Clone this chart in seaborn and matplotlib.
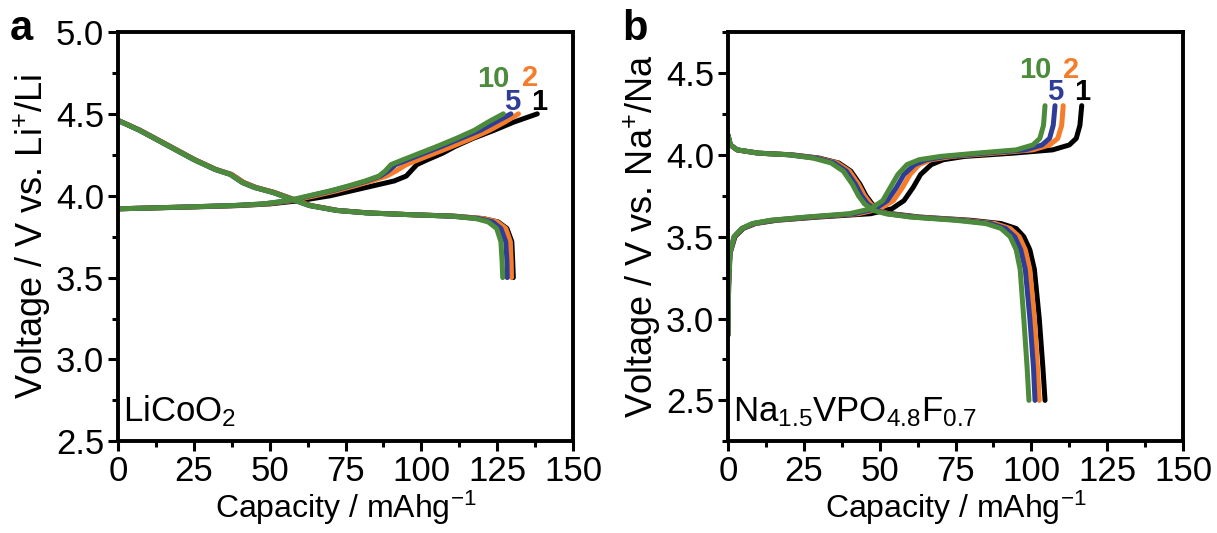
import numpy as np
import pandas as pd
import seaborn as sns
import matplotlib
matplotlib.use("Agg")
import matplotlib.pyplot as plt
from matplotlib.ticker import MultipleLocator

# cycle numbers and colours
cycles = [1, 2, 5, 10]
colors = {1: "#000000", 2: "#f47c2a", 5: "#2f3d98", 10: "#4b8b3b"}

# ---- panel a: LiCoO2 ----
a_chg_v = [3.92, 3.93, 3.94, 3.95, 3.97, 4.00, 4.03, 4.06, 4.09, 4.12,
           4.15, 4.19, 4.22, 4.26, 4.30, 4.35, 4.40, 4.45, 4.50]
a_chg_1 = [0, 22, 40, 50, 60, 70, 77, 84, 91, 95,
           96.5, 98.5, 102, 107, 111, 117, 124, 130.5, 138.2]
a_chg_2 = [0, 20, 39, 49, 57.5, 65, 72, 78, 83.5, 88.5,
           91.5, 95, 99, 104.5, 110, 116.5, 122.5, 127.5, 132.0]
a_chg_5 = [0, 20, 38, 48, 56.5, 63.5, 70.5, 76.5, 82, 86.5,
           89, 91.5, 95.5, 101, 106.5, 113, 119.5, 124.5, 129.5]
a_chg_10 = [0, 20, 38, 48, 56, 63, 70, 76, 81.5, 86,
            88, 90, 94, 99.5, 105, 111.5, 117.5, 122, 127.0]

a_dis_v = [4.46, 4.40, 4.30, 4.22, 4.16, 4.13, 4.08, 4.05, 4.02, 3.98, 3.94,
           3.91, 3.895, 3.885, 3.875, 3.86, 3.84, 3.80, 3.72, 3.60, 3.50]
a_dis_1 = [0, 7.2, 17.3, 25.3, 32.3, 37.4, 41.5, 45.5, 51.5, 57.5, 63.5,
           72.5, 82.5, 95.5, 111, 120.5, 125.3, 128.2, 129.8, 130.1, 130.3]
a_dis_2 = [0, 7.2, 17.3, 25.3, 32.3, 37.4, 41.5, 45.5, 51.5, 57.5, 63.5,
           72.5, 82.5, 95.5, 111, 120.5, 125, 127.8, 129.3, 129.6, 129.7]
a_dis_5 = [0, 7, 17, 25, 32, 37, 41, 45, 51, 57, 63,
           72, 82, 95, 110, 119, 123.5, 126.2, 127.8, 128.2, 128.3]
a_dis_10 = [0, 7, 17, 25, 32, 37, 41, 45, 51, 57, 63,
            72, 82, 95, 110, 118, 122, 124.8, 126.2, 126.6, 126.8]

# ---- panel b: Na1.5VPO4.8F0.7 ----
b_chg_v = [2.9, 3.2, 3.40, 3.50, 3.55, 3.58, 3.60, 3.62, 3.64, 3.67, 3.72,
           3.80, 3.88, 3.94, 3.97, 3.99, 4.01, 4.03, 4.06, 4.10, 4.18, 4.30]
b_chg_1 = [0, 0.2, 0.7, 2.3, 5, 9, 16, 30, 47, 54, 58,
           61, 63.5, 67, 71, 78, 94, 107, 112.5, 114.8, 116, 116.6]
b_chg_2 = [0, 0.2, 0.6, 2.1, 4.7, 8.5, 15, 28, 43, 50, 54.5,
           57.5, 60, 63, 67, 74, 88, 100.5, 106, 108.7, 110, 110.5]
b_chg_5 = [0, 0.2, 0.6, 2, 4.6, 8.2, 14.5, 27, 41.5, 48.5, 52.5,
           55.5, 58, 61.5, 65.5, 72, 85, 98, 103.5, 106, 107.2, 107.8]
b_chg_10 = [0, 0.2, 0.6, 2, 4.5, 8, 14, 26, 40, 47, 51,
            53.5, 56, 59, 63, 70, 82, 95, 100.5, 102.8, 104, 104.5]

b_dis_v = [4.12, 4.06, 4.03, 4.01, 4.00, 3.98, 3.95, 3.90, 3.82, 3.75, 3.70, 3.66,
           3.64, 3.62, 3.60, 3.58, 3.55, 3.50, 3.42, 3.30, 3.00, 2.70, 2.50]
b_dis_1 = [0, 0.8, 3, 10, 21, 30, 36.5, 40.5, 43.5, 45.5, 47.5, 50,
           54, 63, 80, 90, 95, 97.5, 99.5, 101, 102.6, 103.8, 104.5]
b_dis_2 = [0, 0.8, 3, 10, 20.5, 29.5, 36, 40, 43, 45, 47, 49.5,
           53, 62, 78, 88, 93, 96, 98, 99.5, 101, 102, 102.6]
b_dis_5 = [0, 0.8, 3, 10, 20, 29, 35, 39, 42, 44, 46, 49,
           52.5, 61, 76.5, 86.5, 91.5, 94.5, 96.5, 98, 99.5, 100.7, 101.2]
b_dis_10 = [0, 0.8, 3, 10, 20, 28, 34, 38, 41, 43, 45, 48,
            52, 60, 75, 85, 90, 93, 95, 96.3, 97.5, 98.6, 99.2]

# cycle label positions (capacity, voltage)
a_lab_x = {1: 138.8, 2: 135.7, 5: 129.9, 10: 123.6}
a_lab_y = {1: 4.575, 2: 4.72, 5: 4.575, 10: 4.71}
b_lab_x = {1: 116.7, 2: 113.0, 5: 107.8, 10: 101.2}
b_lab_y = {1: 4.385, 2: 4.52, 5: 4.385, 10: 4.52}


def build(chg_v, chg, dis_v, dis):
    rows = []
    for c in cycles:
        for q, v in zip(chg[c], chg_v):
            rows.append({"cap": q, "volt": v, "cycle": c, "branch": f"c{c}"})
        for q, v in zip(dis[c], dis_v):
            rows.append({"cap": q, "volt": v, "cycle": c, "branch": f"d{c}"})
    return pd.DataFrame(rows)


df_a = build(a_chg_v, {1: a_chg_1, 2: a_chg_2, 5: a_chg_5, 10: a_chg_10},
             a_dis_v, {1: a_dis_1, 2: a_dis_2, 5: a_dis_5, 10: a_dis_10})
df_b = build(b_chg_v, {1: b_chg_1, 2: b_chg_2, 5: b_chg_5, 10: b_chg_10},
             b_dis_v, {1: b_dis_1, 2: b_dis_2, 5: b_dis_5, 10: b_dis_10})

sns.set_style("ticks")
plt.rcParams["font.family"] = ["Liberation Sans", "DejaVu Sans"]
plt.rcParams["mathtext.fontset"] = "custom"
plt.rcParams["mathtext.rm"] = "Liberation Sans"
plt.rcParams["mathtext.it"] = "Liberation Sans:italic"
plt.rcParams["mathtext.bf"] = "Liberation Sans:bold"
for key in ["text.color", "axes.labelcolor", "axes.edgecolor",
            "xtick.color", "ytick.color"]:
    plt.rcParams[key] = "black"

fig = plt.figure(figsize=(12.17, 5.33), dpi=100)
ax_a = fig.add_axes([0.0970, 0.172, 0.3739, 0.768])
ax_b = fig.add_axes([0.5982, 0.172, 0.3739, 0.768])

panels = [
    (ax_a, df_a, (2.5, 5.0), a_lab_x, a_lab_y,
     r"Voltage / V vs. Li$^{+}$/Li", r"LiCoO$_{2}$", "a"),
    (ax_b, df_b, (2.25, 4.75), b_lab_x, b_lab_y,
     r"Voltage / V vs. Na$^{+}$/Na", r"Na$_{1.5}$VPO$_{4.8}$F$_{0.7}$", "b"),
]

for ax, df, ylim, lx, ly, ylab, formula, letter in panels:
    sns.lineplot(data=df, x="cap", y="volt", hue="cycle", units="branch",
                 estimator=None, sort=False, hue_order=cycles, palette=colors,
                 linewidth=3.6, legend=False, ax=ax)
    ax.set_xlim(0, 150)
    ax.set_ylim(*ylim)
    ax.xaxis.set_major_locator(MultipleLocator(25))
    ax.xaxis.set_minor_locator(MultipleLocator(12.5))
    ax.yaxis.set_major_locator(MultipleLocator(0.5))
    ax.yaxis.set_minor_locator(MultipleLocator(0.25))
    ax.tick_params(which="major", direction="out", length=7, width=2.2,
                   labelsize=25, pad=3)
    ax.tick_params(which="minor", direction="out", length=4, width=2.2)
    for s in ax.spines.values():
        s.set_linewidth(2.8)
    ax.set_xlabel(r"Capacity / mAhg$^{-1}$", fontsize=23, labelpad=0)
    ax.set_ylabel(ylab, fontsize=26, labelpad=2)
    for c in cycles:
        ax.text(lx[c], ly[c], str(c), color=colors[c], fontsize=21,
                fontweight="bold", ha="center", va="center")
    ax.text(1.5, ylim[0] + 0.12, formula, fontsize=25, ha="left",
            va="baseline")

fig.text(0.008, 0.925, "a", fontsize=30, fontweight="bold")
fig.text(0.511, 0.925, "b", fontsize=30, fontweight="bold")

fig.savefig("out.png", dpi=100)
